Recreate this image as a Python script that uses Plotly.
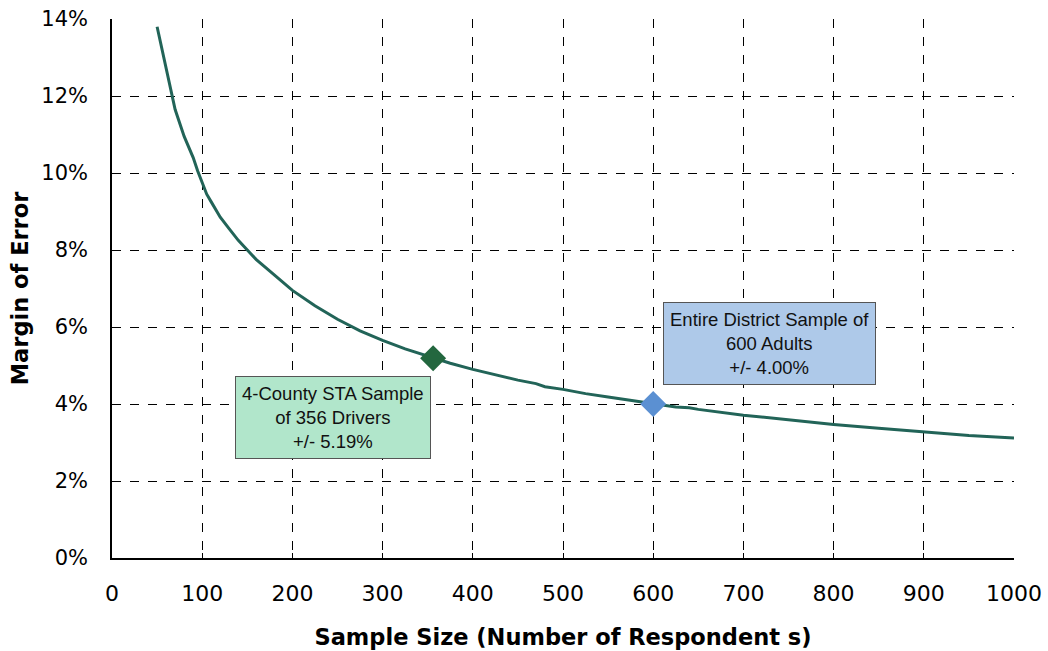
import plotly.graph_objects as go

# Margin of error (%) by sample size
sample_size = [50, 60, 70, 80, 90, 95, 100, 105, 110, 120, 130, 140, 150, 160, 175,
               200, 225, 250, 275, 300, 325, 350, 356, 375, 400, 425, 450, 470, 480,
               500, 525, 550, 575, 600, 625, 640, 650, 700, 750, 800, 850, 900, 950, 1000]
margin_pct = [13.80, 12.70, 11.65, 10.95, 10.40, 10.05, 9.75, 9.45, 9.25, 8.85, 8.55, 8.25,
              8.00, 7.75, 7.45, 6.95, 6.55, 6.20, 5.90, 5.65, 5.43, 5.24, 5.19, 5.06, 4.90,
              4.76, 4.62, 4.53, 4.45, 4.38, 4.27, 4.18, 4.09, 4.00, 3.92, 3.90, 3.86, 3.71,
              3.59, 3.47, 3.37, 3.27, 3.18, 3.12]

# Highlighted samples
highlight_n = [356, 600]
highlight_pct = [5.19, 4.00]
highlight_colors = ["#23673F", "#5B90D2"]
highlight_labels = ["4-County STA Sample<br>of 356 Drivers<br>+/- 5.19%",
                    "Entire District Sample of<br>600 Adults<br>+/- 4.00%"]
label_pos = [(245, 3.64), (729, 5.56)]
label_bg = ["#B1E6CB", "#AEC9E9"]

x_ticks = list(range(0, 1001, 100))
y_ticks = [0, 2, 4, 6, 8, 10, 12, 14]

fig = go.Figure()

fig.add_trace(go.Scatter(
    x=sample_size, y=[v / 100 for v in margin_pct], mode="lines",
    line=dict(color="#226458", width=3), hoverinfo="skip", showlegend=False))

fig.add_trace(go.Scatter(
    x=highlight_n, y=[v / 100 for v in highlight_pct], mode="markers",
    marker=dict(symbol="diamond", size=20, color=highlight_colors, line=dict(width=0)),
    showlegend=False))

for (lx, ly), text, bg in zip(label_pos, highlight_labels, label_bg):
    fig.add_annotation(
        x=lx, y=ly / 100, text=text, showarrow=False,
        font=dict(family="Liberation Sans, Arial", size=18.5, color="#111111"),
        bgcolor=bg, bordercolor="#555555", borderwidth=1, borderpad=6,
        align="center", xanchor="center", yanchor="middle")

fig.update_layout(
    width=1048, height=651,
    margin=dict(l=112, r=34, t=19, b=93),
    paper_bgcolor="white", plot_bgcolor="white",
    xaxis=dict(
        range=[0, 1000], tickvals=x_ticks, ticktext=[str(v) for v in x_ticks],
        showgrid=True, gridcolor="black", gridwidth=1, griddash="dash",
        showline=True, linecolor="black", linewidth=1.5,
        ticks="inside", ticklen=5, tickcolor="black", automargin=False,
        tickfont=dict(family="DejaVu Sans", size=22, color="black"),
        ticklabelstandoff=15, zeroline=False,
        title=dict(text="<b>Sample Size (Number of Respondent s)</b>",
                   font=dict(family="DejaVu Sans", size=22.5, color="black"),
                   standoff=24)),
    yaxis=dict(
        range=[0, 0.14], tickvals=[v / 100 for v in y_ticks],
        ticktext=[f"{v}%" for v in y_ticks],
        showgrid=True, gridcolor="black", gridwidth=1, griddash="dash",
        showline=True, linecolor="black", linewidth=1.5,
        ticks="inside", ticklen=5, tickcolor="black", automargin=False,
        tickfont=dict(family="DejaVu Sans", size=21, color="black"),
        ticklabelstandoff=18, zeroline=False,
        title=dict(text="<b>Margin of Error</b>",
                   font=dict(family="DejaVu Sans", size=22.5, color="black"),
                   standoff=6)),
)

fig.write_html("out.html")
